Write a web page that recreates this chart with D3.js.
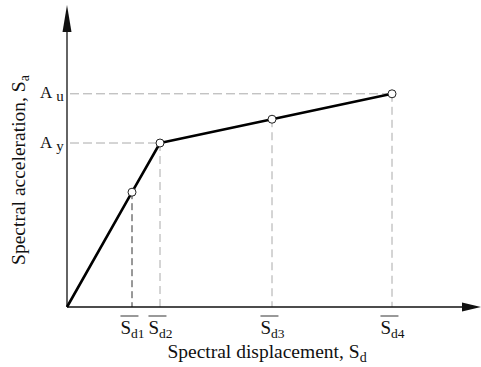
<!doctype html>
<html>
<head>
<style>
  body { margin: 0; background: #fff; }
  text { font-family: "Liberation Serif", "Times New Roman", serif; fill: #111; }
</style>
</head>
<body>
<div class="container"></div>
<script src="https://d3js.org/d3.v7.min.js"></script>
<script>
// spectral displacement of the marked points (arbitrary units)
const sdValues = [0.65, 0.93, 2.05, 3.25];
// spectral acceleration at those points (Ay = 1)
const saValues = [0.70, 1.0, 1.145, 1.30];
const sdLabels = ['d1', 'd2', 'd3', 'd4'];
const saLevels = [1.0, 1.30];
const saLabels = ['y', 'u'];

const W = 481, H = 367;
const svg = d3.select('.container').append('svg').attr('width', W).attr('height', H);

const x = d3.scaleLinear().domain([0, 4]).range([67, 467]);
const y = d3.scaleLinear().domain([0, 1]).range([307, 143]);

const xMax = x.invert(481), yMax = y.invert(5);

// dashed guides
sdValues.forEach((d, i) => {
    svg.append('line')
        .attr('x1', x(d)).attr('x2', x(d))
        .attr('y1', y(saValues[i])).attr('y2', y(0))
        .attr('stroke', i === 0 ? '#333' : '#aaa')
        .attr('stroke-width', 1)
        .attr('stroke-dasharray', i === 0 ? '7,4' : '8,5');
});
saLevels.forEach((v, i) => {
    const px = sdValues[saValues.indexOf(v)];
    svg.append('line')
        .attr('x1', x(0) + 3).attr('x2', x(px))
        .attr('y1', y(v)).attr('y2', y(v))
        .attr('stroke', '#aaa')
        .attr('stroke-width', 1)
        .attr('stroke-dasharray', '9,4');
});

// axes with arrows
svg.append('line').attr('x1', x(0)).attr('x2', x(xMax) - 10)
    .attr('y1', y(0)).attr('y2', y(0)).attr('stroke', '#111').attr('stroke-width', 1.3);
svg.append('line').attr('x1', x(0)).attr('x2', x(0))
    .attr('y1', y(0)).attr('y2', y(yMax) + 10).attr('stroke', '#111').attr('stroke-width', 1.3);
svg.append('path')
    .attr('d', `M${x(xMax)},${y(0)} L${x(xMax) - 19},${y(0) - 4.5} L${x(xMax) - 19},${y(0) + 4.5} Z`)
    .attr('fill', '#111');
svg.append('path')
    .attr('d', `M${x(0)},${y(yMax)} L${x(0) - 4.5},${y(yMax) + 27} L${x(0) + 4.5},${y(yMax) + 27} Z`)
    .attr('fill', '#111');

// capacity curve
const pts = [[0, 0]].concat(sdValues.map((d, i) => [d, saValues[i]]));
svg.append('path')
    .datum(pts)
    .attr('fill', 'none')
    .attr('stroke', '#000')
    .attr('stroke-width', 2.6)
    .attr('stroke-linejoin', 'round')
    .attr('d', d3.line().x(d => x(d[0])).y(d => y(d[1])));

svg.selectAll('circle.pt').data(sdValues).enter().append('circle')
    .attr('class', 'pt')
    .attr('cx', d => x(d))
    .attr('cy', (d, i) => y(saValues[i]))
    .attr('r', 4)
    .attr('fill', '#fff')
    .attr('stroke', '#222')
    .attr('stroke-width', 1);

// x tick labels (S with overline and subscript)
const xAxis = svg.append('g').attr('transform', `translate(0,${y(0)})`)
    .call(d3.axisBottom(x).tickValues(sdValues).tickSize(0).tickFormat(''));
xAxis.select('.domain').remove();
xAxis.selectAll('.tick').each(function(d, i) {
    const g = d3.select(this);
    const t = g.append('text').attr('y', 27).attr('text-anchor', 'middle')
        .style('font-size', '19px');
    t.append('tspan').text('S');
    t.append('tspan').attr('dy', 4).style('font-size', '13.5px').text(sdLabels[i]);
    const bb = t.node().getBBox();
    g.append('line').attr('x1', bb.x).attr('x2', bb.x + 18)
        .attr('y1', 9).attr('y2', 9).attr('stroke', '#555').attr('stroke-width', 1.2);
});

// y level labels
const yAxis = svg.append('g').attr('transform', `translate(${x(0)},0)`)
    .call(d3.axisLeft(y).tickValues(saLevels).tickSize(0).tickFormat(''));
yAxis.select('.domain').remove();
yAxis.selectAll('.tick').each(function(d, i) {
    const t = d3.select(this).append('text').attr('x', -27).attr('y', 4)
        .attr('text-anchor', 'start')
        .style('font-size', '17px');
    t.append('tspan').text('A');
    t.append('tspan').attr('dx', 4).attr('dy', 3).style('font-size', '15px').text(saLabels[i]);
});

// axis titles
const xt = svg.append('text').attr('x', 267).attr('y', 358).attr('text-anchor', 'middle')
    .style('font-size', '19.5px');
xt.append('tspan').text('Spectral displacement, S');
xt.append('tspan').attr('dy', 4).style('font-size', '14px').text('d');

const yt = svg.append('text').attr('transform', 'translate(25,170) rotate(-90)')
    .attr('text-anchor', 'middle').style('font-size', '19.5px');
yt.append('tspan').text('Spectral acceleration, S');
yt.append('tspan').attr('dy', 4).style('font-size', '14px').text('a');
</script>
</body>
</html>
